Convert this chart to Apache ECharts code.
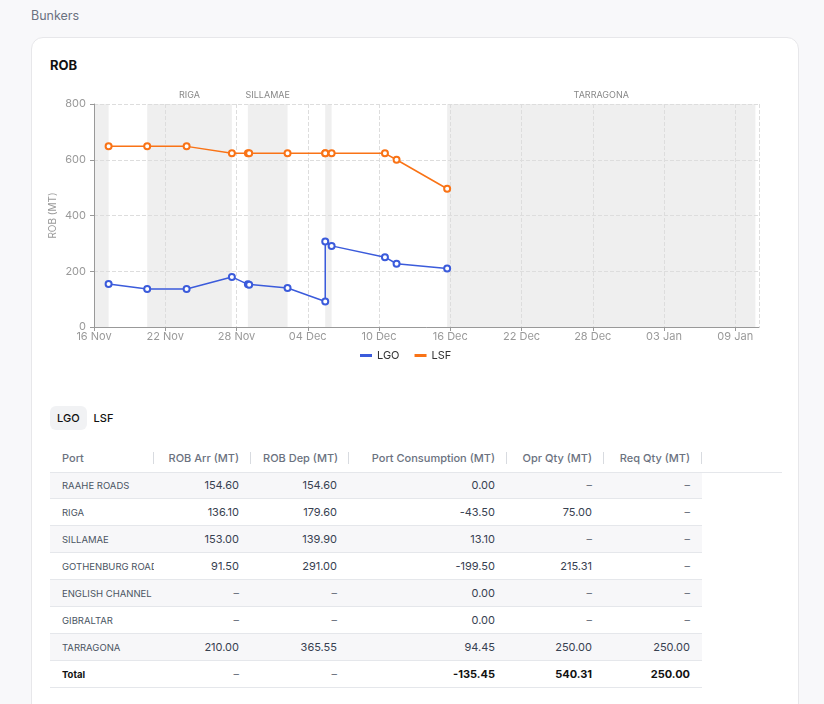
<!DOCTYPE html>
<html>
<head>
<meta charset="utf-8">
<script src="https://cdn.jsdelivr.net/npm/echarts@6/dist/echarts.min.js"></script>
<style>
	body { margin: 0; background: #f8f8fa; font-family: Inter, "Noto Sans", sans-serif; }
	.page-title { position: absolute; left: 31px; top: 8px; font-size: 12.5px; color: #6b7280; }
	.card { position: absolute; left: 31px; top: 37px; width: 766px; height: 700px; background: #fff;
		border: 1px solid #e7e7ea; border-radius: 12px; }
	.card-title { position: absolute; left: 18px; top: 19px; font-size: 13px; font-weight: 700; color: #111; }
	#robChart { position: absolute; left: 0; top: 48px; width: 768px; height: 290px; }
	.tabs { position: absolute; left: 18px; top: 368px; display: flex; }
	.tab { height: 24px; line-height: 24px; padding: 0 7px; font-size: 11px; font-weight: 500; color: #111;
		border-radius: 6px; }
	.tab.active { background: #f1f2f4; }
	.head-line { position: absolute; left: 18px; top: 434px; width: 732px; height: 1px; background: #e5e7eb; }
	table { position: absolute; left: 18px; top: 405px; border-collapse: collapse; table-layout: fixed; width: 652px; }
	th { height: 29px; font-size: 11px; font-weight: 500; color: #6b7280; text-align: right; padding: 0 12px;
		position: relative; white-space: nowrap; }
	th:first-child { text-align: left; }
	th::after { content: ""; position: absolute; right: 0; top: 9px; width: 1px; height: 12px; background: #d8dbe0; }
	td { height: 26px; border-bottom: 1px solid #e5e7eb; font-size: 11px; color: #374151; text-align: right;
		padding: 0 12px; white-space: nowrap; overflow: hidden; }
	td:first-child { text-align: left; font-size: 9.5px; color: #4b5563; padding-right: 0; text-overflow: clip; }
	tbody tr:nth-child(odd) td { background: #f7f7f9; }
	tr.total td { font-weight: 700; color: #111; }
	tr.total td.dash { font-weight: 400; color: #6b7280; }
	td.dash { color: #6b7280; }
</style>
</head>
<body>
<div class="page-title">Bunkers</div>
<div class="card">
	<div class="card-title">ROB</div>
	<div id="robChart"></div>
	<div class="tabs"><div class="tab active">LGO</div><div class="tab">LSF</div></div>
	<table id="robTable">
		<colgroup>
			<col style="width:104px"><col style="width:97px"><col style="width:98px">
			<col style="width:158px"><col style="width:97px"><col style="width:98px">
		</colgroup>
		<thead><tr>
			<th>Port</th><th>ROB Arr (MT)</th><th>ROB Dep (MT)</th><th>Port Consumption (MT)</th>
			<th>Opr Qty (MT)</th><th>Req Qty (MT)</th>
		</tr></thead>
		<tbody></tbody>
	</table>
	<div class="head-line"></div>
</div>

<script>
"use strict";
var chartTextColor = '#999';
var startDate = '2023-11-16 00:00';

// chart points (noon reports / port calls)
var pointTimes = [ '2023-11-17 05:30', '2023-11-20 11:30', '2023-11-23 19:10', '2023-11-27 14:40',
		'2023-11-28 23:00', '2023-11-29 01:40', '2023-12-02 07:10', '2023-12-05 11:20',
		'2023-12-05 11:20', '2023-12-06 00:15', '2023-12-10 12:00', '2023-12-11 11:30',
		'2023-12-15 17:45' ];
var lgoRob = [ 154.6, 136.1, 136.1, 179.6, 153.0, 152.0, 139.9, 91.5, 306.81, 291.0, 250.5, 227.0, 210.0 ];
var lsfRob = [ 648, 648, 648, 623, 623, 623, 623, 623, 623, 623, 623, 600, 496 ];

// port stays (shaded)
var stayPorts = [ 'RAAHE ROADS', 'RIGA', 'SILLAMAE', 'GOTHENBURG ROADS', 'TARRAGONA' ];
var stayFrom = [ '2023-11-16 00:00', '2023-11-20 11:30', '2023-11-28 23:00', '2023-12-05 11:20', '2023-12-15 17:45' ];
var stayTo = [ '2023-11-17 05:30', '2023-11-27 14:40', '2023-12-02 07:10', '2023-12-06 00:15', '2024-01-10 16:40' ];

// table (LGO)
var tablePorts = [ 'RAAHE ROADS', 'RIGA', 'SILLAMAE', 'GOTHENBURG ROADS', 'ENGLISH CHANNEL', 'GIBRALTAR', 'TARRAGONA' ];
var robArr = [ 154.60, 136.10, 153.00, 91.50, null, null, 210.00 ];
var robDep = [ 154.60, 179.60, 139.90, 291.00, null, null, 365.55 ];
var portCons = [ 0.00, -43.50, 13.10, -199.50, 0.00, 0.00, 94.45 ];
var oprQty = [ null, 75.00, null, 215.31, null, null, 250.00 ];
var reqQty = [ null, null, null, null, null, null, 250.00 ];

var DAY = 86400000;
var MONTHS = [ 'Jan', 'Feb', 'Mar', 'Apr', 'May', 'Jun', 'Jul', 'Aug', 'Sep', 'Oct', 'Nov', 'Dec' ];

function toMs(s) {
	var p = s.split(/[- :]/);
	return Date.UTC(+p[0], +p[1] - 1, +p[2], +p[3], +p[4]);
}
// days since start of axis
function toDay(s) {
	return (toMs(s) - toMs(startDate)) / DAY;
}
function dayLabel(d) {
	var dt = new Date(toMs(startDate) + d * DAY);
	var dd = dt.getUTCDate();
	return (dd < 10 ? '0' + dd : dd) + ' ' + MONTHS[dt.getUTCMonth()];
}

function robChart() {
	var chart = echarts.init(document.getElementById('robChart'));

	var lgoData = pointTimes.map(function(t, i) { return [ toDay(t), lgoRob[i] ]; });
	var lsfData = pointTimes.map(function(t, i) { return [ toDay(t), lsfRob[i] ]; });
	var areas = stayPorts.map(function(p, i) {
		var a = toDay(stayFrom[i]), b = toDay(stayTo[i]);
		return [ {
			name : p,
			xAxis : a,
			label : { show : (b - a) > 2 }
		}, {
			xAxis : b
		} ];
	});

	chart.setOption({
		animation : false,
		textStyle : { fontFamily : 'Inter, "Noto Sans", sans-serif' },
		color : [ '#3b5bdb', '#f97316' ],
		grid : {
			left : 62,
			right : 41,
			top : 18,
			height : 223
		},
		legend : {
			left : 323,
			top : 259,
			icon : 'rect',
			itemWidth : 12,
			itemHeight : 3,
			itemGap : 15,
			textStyle : { fontSize : 11, color : '#333' },
			data : [ 'LGO', 'LSF' ]
		},
		xAxis : {
			type : 'value',
			min : 0,
			max : 56,
			interval : 6,
			z : 2,
			axisLine : { lineStyle : { color : '#999' } },
			axisTick : { show : true, length : 4, lineStyle : { color : '#999' } },
			axisLabel : {
				color : chartTextColor,
				fontSize : 11,
				margin : 4,
				showMaxLabel : false,
				formatter : dayLabel
			},
			splitLine : { show : true, lineStyle : { type : 'dashed', color : '#ddd' } }
		},
		yAxis : {
			type : 'value',
			min : 0,
			max : 800,
			interval : 200,
			z : 2,
			name : 'ROB (MT)',
			nameLocation : 'middle',
			nameGap : 36,
			nameMoveOverlap : false,
			nameTextStyle : { color : chartTextColor, fontSize : 10 },
			axisLine : { show : true, lineStyle : { color : '#999' } },
			axisTick : { show : true, length : 4, lineStyle : { color : '#999' } },
			axisLabel : { color : chartTextColor, fontSize : 11 },
			splitLine : { lineStyle : { type : 'dashed', color : '#ddd' } }
		},
		series : [ {
			// port stays, kept under the grid lines
			name : 'stays',
			type : 'line',
			data : [],
			z : 1,
			markArea : {
				silent : true,
				itemStyle : { color : '#efefef' },
				label : { position : 'top', distance : 4, color : '#888', fontSize : 9 },
				data : areas
			}
		}, {
			name : 'LGO',
			type : 'line',
			data : lgoData,
			symbol : 'emptyCircle',
			symbolSize : 6,
			color : '#3b5bdb',
			lineStyle : { width : 1.5 },
			itemStyle : { borderWidth : 1.5 },
			z : 3
		}, {
			name : 'LSF',
			type : 'line',
			data : lsfData,
			symbol : 'emptyCircle',
			symbolSize : 6,
			color : '#f97316',
			lineStyle : { width : 1.5 },
			itemStyle : { borderWidth : 1.5 },
			z : 3
		} ]
	});
}

robChart();

function fmt(v) {
	return v == null ? '\u2013' : v.toFixed(2);
}
function sum(arr) {
	return arr.reduce(function(s, v) { return s + (v || 0); }, 0);
}
function cell(v) {
	return '<td' + (v == null ? ' class="dash"' : '') + '>' + fmt(v) + '</td>';
}

function robTable() {
	var html = '';
	tablePorts.forEach(function(p, i) {
		html += '<tr><td>' + p + '</td>' + cell(robArr[i]) + cell(robDep[i]) + cell(portCons[i])
				+ cell(oprQty[i]) + cell(reqQty[i]) + '</tr>';
	});
	html += '<tr class="total"><td>Total</td>' + cell(null) + cell(null) + cell(sum(portCons))
			+ cell(sum(oprQty)) + cell(sum(reqQty)) + '</tr>';
	document.querySelector('#robTable tbody').innerHTML = html;
}

robTable();
</script>
</body>
</html>
